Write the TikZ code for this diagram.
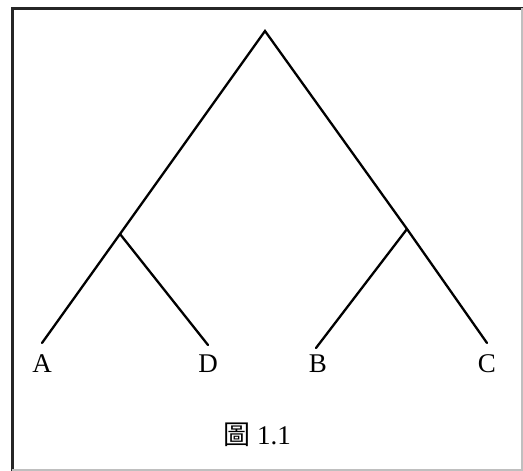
\documentclass[tikz,border=0pt]{standalone}
\usepackage{fontspec}
\setmainfont{Liberation Serif}
\newfontfamily\cjk{Noto Sans CJK TC}
\usetikzlibrary{positioning}

\begin{document}
\begin{tikzpicture}[
    x=1pt, y=-1pt,
    branch/.style={line width=2.3pt, line cap=round},
    leaf/.style={inner sep=0pt, font=\fontsize{27}{30}\selectfont}
]
\useasboundingbox (0,0) rectangle (523,471);
% frame
\draw[line width=3pt, black!85] (12,471) -- (12,8) -- (523,8);
\draw[line width=2pt, black!25] (12,470) -- (522,470) -- (522,8);
% tree
\coordinate (root) at (265,31);
\coordinate (ad) at (120,234);
\coordinate (bc) at (407,229);
\coordinate (a) at (42,343);
\coordinate (d) at (208,345);
\coordinate (b) at (316,348);
\coordinate (c) at (487,343);
\draw[branch] (a) -- (ad) -- (root) -- (bc) -- (c);
\draw[branch] (ad) -- (d);
\draw[branch] (bc) -- (b);
% labels
\node[leaf] (la) at (42,364) {A};
\node[leaf] (ld) at (208,364) {D};
\node[leaf] (lb) at (318,364) {B};
\node[leaf] (lc) at (487,364) {C};
\node[leaf] (cap) at (257,435) {{\cjk 圖} 1.1};
\end{tikzpicture}
\end{document}
